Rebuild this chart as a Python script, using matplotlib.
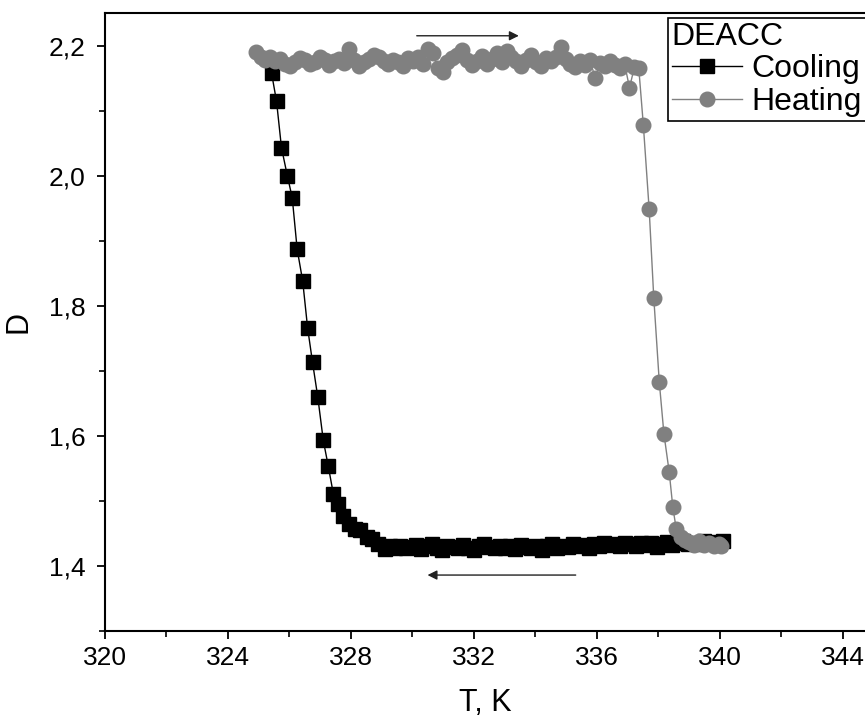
import matplotlib
matplotlib.use('Agg')
import matplotlib.pyplot as plt
from matplotlib.ticker import MultipleLocator, FuncFormatter

plt.rcParams['font.family'] = ['Liberation Sans', 'DejaVu Sans']

# Cooling branch (black squares)
t_cool = [325.42, 325.58, 325.74, 325.93, 326.09, 326.25, 326.43, 326.59, 326.75, 326.92,
          327.10, 327.26, 327.43, 327.59, 327.75, 327.95, 328.13, 328.29, 328.51, 328.67,
          328.89, 329.10, 329.27, 329.44, 329.61, 329.78, 329.95, 330.12, 330.29, 330.46,
          330.63, 330.80, 330.97, 331.14, 331.31, 331.48, 331.65, 331.82, 331.99, 332.16,
          332.33, 332.50, 332.67, 332.84, 333.01, 333.18, 333.35, 333.52, 333.69, 333.86,
          334.03, 334.20, 334.37, 334.54, 334.71, 334.88, 335.05, 335.22, 335.39, 335.56,
          335.73, 335.90, 336.07, 336.24, 336.41, 336.58, 336.75, 336.92, 337.09, 337.26,
          337.43, 337.60, 337.77, 337.94, 338.11, 338.28, 338.45, 338.62, 338.79, 338.96,
          339.13, 339.30, 339.47, 339.64, 339.81, 339.98, 340.10]
d_cool = [2.157, 2.114, 2.043, 2.000, 1.966, 1.887, 1.838, 1.766, 1.713, 1.660,
          1.593, 1.554, 1.510, 1.495, 1.477, 1.465, 1.457, 1.455, 1.444, 1.442,
          1.434, 1.426, 1.430, 1.428, 1.431, 1.427, 1.429, 1.432, 1.426, 1.430,
          1.433, 1.428, 1.425, 1.431, 1.429, 1.427, 1.432, 1.428, 1.424, 1.430,
          1.433, 1.429, 1.427, 1.431, 1.428, 1.430, 1.426, 1.432, 1.429, 1.427,
          1.431, 1.424, 1.430, 1.433, 1.428, 1.431, 1.429, 1.434, 1.430, 1.432,
          1.428, 1.433, 1.431, 1.435, 1.432, 1.434, 1.430, 1.436, 1.433, 1.431,
          1.435, 1.432, 1.436, 1.429, 1.434, 1.437, 1.432, 1.435, 1.438, 1.433,
          1.436, 1.434, 1.438, 1.435, 1.437, 1.434, 1.439]

# Heating branch (grey circles)
t_heat = [324.90, 325.06, 325.22, 325.38, 325.54, 325.70, 325.86, 326.02, 326.18, 326.34,
          326.50, 326.66, 326.82, 326.98, 327.14, 327.30, 327.46, 327.62, 327.78, 327.94,
          328.10, 328.26, 328.42, 328.58, 328.74, 328.90, 329.06, 329.22, 329.38, 329.54,
          329.70, 329.86, 330.02, 330.18, 330.34, 330.50, 330.66, 330.82, 330.98, 331.14,
          331.30, 331.46, 331.62, 331.78, 331.94, 332.10, 332.26, 332.42, 332.58, 332.74,
          332.90, 333.06, 333.22, 333.38, 333.54, 333.70, 333.86, 334.02, 334.18, 334.34,
          334.50, 334.66, 334.82, 334.98, 335.14, 335.30, 335.46, 335.62, 335.78, 335.94,
          336.10, 336.26, 336.42, 336.58, 336.74, 336.90, 337.06, 337.22, 337.36,
          337.51, 337.70, 337.85, 338.03, 338.18, 338.35, 338.47, 338.58, 338.72, 338.86,
          339.00, 339.16, 339.32, 339.48, 339.64, 339.80, 339.96, 340.05]
d_heat = [2.190, 2.182, 2.178, 2.183, 2.176, 2.180, 2.172, 2.168, 2.175, 2.181,
          2.177, 2.171, 2.174, 2.182, 2.178, 2.170, 2.176, 2.179, 2.173, 2.195,
          2.177, 2.168, 2.174, 2.180, 2.186, 2.183, 2.176, 2.171, 2.178, 2.174,
          2.169, 2.181, 2.176, 2.183, 2.172, 2.195, 2.188, 2.165, 2.160, 2.174,
          2.181, 2.186, 2.193, 2.178, 2.170, 2.176, 2.184, 2.172, 2.180, 2.188,
          2.175, 2.191, 2.183, 2.176, 2.169, 2.178, 2.185, 2.174, 2.168, 2.181,
          2.176, 2.183, 2.197, 2.179, 2.172, 2.167, 2.176, 2.170, 2.178, 2.150,
          2.173, 2.168, 2.176, 2.170, 2.165, 2.172, 2.135, 2.167, 2.166,
          2.078, 1.948, 1.812, 1.682, 1.603, 1.545, 1.490, 1.457, 1.445, 1.440,
          1.437, 1.432, 1.438, 1.432, 1.436, 1.430, 1.433, 1.431]

fig = plt.figure(figsize=(8.65, 7.24), dpi=100)
ax = fig.add_axes([105 / 865, 1 - 631 / 724, 760 / 865, 618 / 724])

ax.plot(t_cool, d_cool, color='black', lw=1, marker='s', ms=9.5,
        mec='black', mfc='black', label='Cooling')
ax.plot(t_heat, d_heat, color='#808080', lw=1, marker='o', ms=10.5,
        mec='#808080', mfc='#808080', label='Heating')

# direction arrows
ax.annotate('', xy=(333.55, 2.215), xytext=(330.05, 2.215),
            arrowprops=dict(arrowstyle='-|>', color='#222222', lw=1, mutation_scale=14))
ax.annotate('', xy=(330.4, 1.386), xytext=(335.4, 1.386),
            arrowprops=dict(arrowstyle='-|>', color='#222222', lw=1, mutation_scale=14))

ax.set_xlim(320, 344.72)
ax.set_ylim(1.3, 2.25)
ax.xaxis.set_major_locator(MultipleLocator(4))
ax.xaxis.set_minor_locator(MultipleLocator(2))
ax.yaxis.set_major_locator(MultipleLocator(0.2))
ax.yaxis.set_minor_locator(MultipleLocator(0.1))
ax.yaxis.set_major_formatter(FuncFormatter(lambda v, p: f'{v:.1f}'.replace('.', ',')))
ax.xaxis.set_major_formatter(FuncFormatter(lambda v, p: f'{v:.0f}'))

ax.spines['right'].set_visible(False)
for s in ['left', 'bottom', 'top']:
    ax.spines[s].set_linewidth(1.5)
ax.tick_params(which='major', direction='out', length=6, width=1.3, labelsize=19)
ax.tick_params(which='minor', direction='out', length=4, width=1.2)
ax.tick_params(axis='x', which='major', pad=5)
ax.tick_params(axis='y', which='major', pad=8)

ax.set_xlabel('T, K', fontsize=22, labelpad=13)
ax.set_ylabel('D', fontsize=22, labelpad=11)

leg = ax.legend(title='DEACC', loc='upper left', bbox_to_anchor=(668 / 865, 1 - 18 / 724),
                bbox_transform=fig.transFigure, fontsize=23, title_fontsize=23,
                alignment='left', fancybox=False, framealpha=1, edgecolor='black',
                borderpad=0.12, handlelength=2.2, handletextpad=0.3, labelspacing=0.08,
                borderaxespad=0)
leg.get_frame().set_linewidth(1.2)

fig.savefig('out.png', dpi=100)
